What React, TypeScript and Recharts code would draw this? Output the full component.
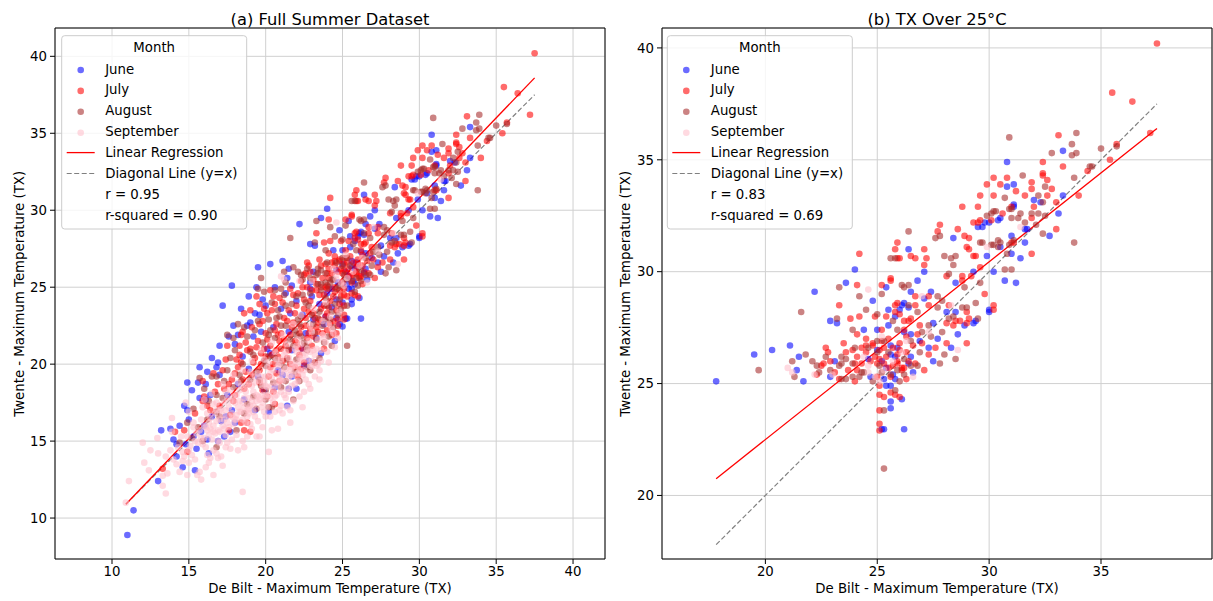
import React from 'react';
import { ScatterChart, Scatter, XAxis, YAxis, CartesianGrid, ReferenceLine } from 'recharts';

type P = [number, number];

// Days with TX over 25°C at either station: panel (b), and also part of panel (a)
const juneHot: P[] = [
  [17.8, 25.1], [19.5, 26.3], [20.3, 26.5], [21.1, 26.7], [21.5, 26.2], [21.7, 25.1], [21.4, 25.6], [22.2, 29.1],
  [22.9, 27.8], [23.2, 27.7], [23.6, 29.5], [24.0, 30.1], [24.8, 28.7], [25.4, 29.3], [26.2, 28.6], [25.5, 28.3],
  [26.0, 28.3], [24.4, 27.4], [25.0, 26.5], [25.6, 26.3], [25.8, 26.2], [23.1, 26.0], [22.9, 25.3], [24.7, 25.3],
  [25.4, 25.7], [25.7, 25.4], [25.8, 25.2], [26.4, 25.9], [25.4, 24.9], [25.6, 24.9], [26.1, 24.3], [25.6, 23.9],
  [25.6, 24.2], [25.2, 22.96], [25.3, 22.96], [26.2, 22.96],
  [30.8, 34.9], [31.1, 33.9], [30.8, 33.8], [31.1, 33.0], [30.4, 32.3], [29.8, 32.2], [29.5, 32.0], [26.4, 31.0],
  [28.4, 31.5], [29.9, 30.7], [31.0, 31.6], [31.0, 30.8], [30.7, 29.6], [31.2, 29.5], [30.2, 30.0], [29.3, 30.0],
  [28.5, 29.5], [30.0, 28.3], [27.1, 30.0], [26.5, 29.1], [26.8, 29.6], [27.1, 28.8], [27.4, 29.1], [28.5, 28.2],
  [26.1, 28.5], [26.4, 28.4], [28.9, 27.6], [29.3, 27.7],
  [33.3, 35.4], [33.3, 33.4], [33.1, 32.6], [32.3, 33.1], [32.0, 33.2], [31.1, 32.9], [30.5, 32.4], [30.0, 32.2],
  [29.7, 32.0], [31.6, 31.9], [31.7, 31.9], [32.7, 31.6], [31.6, 31.3], [31.4, 30.6], [30.5, 31.1],
  [30.0, 28.2], [29.4, 27.8], [28.6, 27.2], [27.5, 26.0], [27.3, 26.6], [26.5, 26.2], [25.5, 27.6], [25.0, 27.4],
  [25.8, 28.0], [26.5, 27.2], [26.2, 27.3], [25.6, 26.7], [28.3, 26.6], [27.7, 27.0], [27.5, 27.7], [28.1, 28.2],
  [25.2, 26.0], [25.9, 26.6], [26.6, 25.5], [25.3, 25.2], [26.9, 26.9], [24.6, 26.1],
];

const julyHot: P[] = [
  [22.7, 26.6], [24.1, 29.4], [24.2, 30.8], [23.3, 28.5], [23.8, 27.9], [24.2, 28.0], [24.9, 28.0], [25.2, 29.4],
  [25.6, 29.6], [26.0, 30.6], [25.8, 31.0], [25.9, 28.6], [25.8, 28.2], [22.6, 25.9], [23.5, 26.8], [23.6, 26.4],
  [24.1, 27.2], [24.5, 27.0], [24.5, 26.7], [24.8, 26.7], [25.1, 26.5], [25.3, 26.6], [25.2, 26.9], [25.5, 27.0],
  [26.0, 26.5], [26.3, 27.1], [26.2, 27.4], [26.4, 27.8], [24.1, 25.6], [24.3, 25.9], [24.1, 26.2], [23.7, 25.6],
  [23.3, 25.2], [22.9, 26.0], [22.5, 25.8], [22.8, 26.4], [25.1, 26.1], [25.5, 25.7], [25.9, 25.9], [26.1, 25.7],
  [25.1, 24.9], [26.0, 24.4], [25.3, 24.4], [25.1, 24.5], [25.1, 23.8], [25.1, 23.2], [25.1, 22.9], [25.6, 24.6],
  [25.8, 24.5],
  [30.2, 34.2], [29.9, 33.9], [29.6, 33.4], [31.0, 32.9], [30.6, 32.6], [30.1, 32.3], [29.6, 32.3], [29.3, 32.2],
  [28.8, 32.9], [28.6, 31.9], [27.8, 32.1], [27.7, 31.8], [25.9, 31.3], [25.9, 30.6], [26.5, 30.7], [26.7, 30.6],
  [27.1, 31.0], [27.2, 30.6], [27.1, 30.3], [28.9, 31.6], [29.0, 31.1], [29.3, 30.7], [29.6, 30.2], [29.2, 29.8],
  [28.8, 29.8], [28.8, 29.6], [29.8, 29.0], [30.2, 28.5], [28.1, 29.8], [25.6, 29.7], [26.7, 28.9], [27.3, 28.9],
  [29.0, 28.2], [25.8, 28.5], [26.7, 28.5], [27.3, 28.5], [28.5, 27.8], [28.4, 27.6],
  [37.5, 40.2], [35.5, 38.0], [36.4, 37.6], [37.2, 36.2], [35.7, 35.7], [35.4, 35.0], [33.1, 36.1], [32.4, 34.9],
  [33.3, 34.7], [34.4, 34.5], [32.4, 34.4], [32.4, 34.3], [32.6, 34.1], [32.8, 33.7], [32.6, 33.4], [33.0, 33.1],
  [34.0, 33.4], [32.0, 32.9], [31.9, 34.0], [31.9, 33.7], [31.2, 33.6], [31.6, 33.4], [30.8, 34.2], [30.5, 33.9],
  [30.2, 33.4], [29.5, 32.9], [29.5, 32.2], [31.9, 32.4], [33.0, 31.9], [31.0, 31.3], [31.1, 31.3], [31.9, 30.8],
  [29.4, 30.7], [29.1, 31.0], [29.1, 31.5],
  [30.2, 28.3], [29.1, 27.9], [29.0, 27.7], [29.0, 26.8], [28.7, 27.8], [28.1, 27.7], [28.1, 26.8], [27.1, 25.6],
  [27.3, 26.3], [27.0, 26.8], [26.3, 26.4], [26.2, 25.7], [26.3, 25.2], [25.7, 25.8], [25.4, 26.2], [25.0, 25.9],
  [24.0, 25.1], [24.0, 25.9], [24.5, 26.4], [24.7, 26.0], [24.8, 26.8], [26.0, 28.1], [26.2, 27.8], [26.5, 27.9],
  [26.8, 27.2], [26.0, 26.8], [25.9, 26.0], [26.1, 25.6], [28.2, 28.5],
  [25.3, 25.9], [25.6, 25.3], [25.9, 26.3], [26.4, 26.0], [25.2, 27.4], [25.7, 26.6], [26.7, 25.9], [24.9, 26.2],
  [24.3, 26.6], [25.4, 28.0], [26.9, 27.6], [27.6, 26.6], [23.9, 26.5], [23.1, 25.5], [22.3, 25.4], [25.0, 25.3],
  [26.6, 26.7],
];

const augustHot: P[] = [
  [19.7, 25.6], [21.8, 26.3], [21.6, 28.2], [21.2, 26.0], [21.3, 25.3], [22.7, 26.2], [22.1, 26.0], [22.3, 25.8],
  [22.4, 25.5], [23.2, 27.9], [23.3, 29.3], [24.2, 28.9], [24.5, 28.3], [25.2, 29.0], [25.8, 30.6], [26.2, 29.3],
  [23.3, 25.8], [23.4, 26.2], [23.9, 27.4], [25.0, 26.9], [25.9, 27.4], [26.5, 26.9], [23.6, 25.2], [23.9, 25.3],
  [24.2, 25.3], [24.4, 25.5], [23.9, 25.9], [23.4, 25.9], [23.4, 25.2], [25.2, 25.5], [26.2, 25.4], [25.8, 24.7],
  [25.3, 23.8], [25.3, 21.2],
  [30.9, 36.0], [30.7, 33.3], [30.9, 32.8], [30.2, 32.7], [29.9, 32.5], [27.8, 31.6], [27.6, 31.5], [26.4, 31.8],
  [25.6, 30.6], [28.0, 30.7], [28.3, 30.6], [28.5, 30.7], [28.4, 30.3], [29.6, 31.3], [30.2, 31.2], [30.4, 31.1],
  [30.4, 31.4], [30.9, 31.2], [31.1, 31.4], [30.7, 30.1], [31.0, 30.1], [28.9, 29.3], [29.6, 29.5], [28.2, 29.9],
  [26.1, 29.4], [26.4, 29.4], [27.7, 28.9], [27.9, 28.7], [28.8, 28.4], [29.4, 28.6], [27.7, 28.4], [28.2, 27.9],
  [35.7, 35.6], [35.0, 35.5], [33.9, 36.2], [33.7, 35.7], [33.9, 35.3], [33.7, 35.2], [32.8, 35.3], [34.5, 34.7],
  [34.6, 34.7], [33.8, 34.2], [32.5, 33.8], [32.2, 33.4], [32.4, 33.1], [31.5, 34.3], [31.0, 32.8], [30.3, 32.7],
  [30.1, 32.6], [31.4, 32.6], [31.0, 32.4], [31.3, 32.4], [31.9, 32.6], [32.1, 32.1], [32.2, 32.6], [32.5, 32.5],
  [32.4, 31.7], [33.8, 31.3], [31.6, 32.2], [30.5, 31.3], [30.1, 31.2], [29.7, 31.3], [30.8, 30.8],
  [29.5, 27.9], [29.0, 28.4], [28.5, 26.1], [27.9, 27.3], [26.8, 25.8], [26.5, 25.8], [25.9, 25.6], [26.0, 25.1],
  [25.6, 25.4], [24.8, 25.1], [24.3, 25.5], [25.0, 26.4], [25.0, 28.1], [25.3, 26.9], [25.7, 27.8], [26.8, 28.2],
  [27.0, 27.3], [27.8, 25.9], [28.0, 26.3], [27.4, 27.1], [28.4, 28.0],
  [25.5, 26.4], [26.2, 26.1], [25.1, 25.8], [24.6, 26.6], [26.9, 26.4], [27.3, 27.6], [24.0, 26.6], [22.9, 25.6],
  [23.6, 26.1], [26.4, 28.5],
];

const septemberHot: P[] = [
  [21.0, 25.7], [22.2, 25.4], [24.6, 29.2], [24.6, 25.8], [24.9, 25.3], [29.9, 31.1], [28.3, 28.5], [31.4, 32.0],
  [28.6, 26.5], [26.6, 25.3], [25.3, 25.6], [25.1, 25.1], [24.6, 25.5], [25.2, 27.1], [26.1, 26.4], [21.2, 25.5],
  [23.0, 25.4], [27.0, 28.9], [25.7, 26.0], [26.3, 26.9], [24.4, 26.2], [27.3, 27.3],
];

// Remaining (cooler) summer days: panel (a) only
const juneCool: P[] = [
  [11.0, 8.9], [11.4, 10.5], [13.0, 12.4], [13.2, 15.7], [13.8, 15.8], [14.0, 15.1], [14.4, 16.0], [14.2, 14.0],
  [14.6, 13.3], [15.4, 13.1], [14.7, 17.3], [14.9, 17.0], [15.2, 18.3], [14.9, 18.8], [15.0, 16.4], [16.5, 20.4],
  [15.7, 19.8], [16.1, 18.7], [15.7, 17.8], [16.1, 17.7], [16.8, 19.8], [17.6, 21.8], [18.0, 21.3], [16.9, 15.0],
  [17.3, 15.3], [17.4, 16.6], [17.2, 23.8], [19.8, 24.2], [19.3, 23.3], [19.6, 23.2], [18.8, 22.5], [19.0, 22.7],
  [16.9, 20.1], [25.0, 22.45], [24.6, 23.0], [18.5, 20.5], [19.2, 21.8], [20.1, 21.0], [20.5, 22.4], [21.0, 23.6],
  [21.5, 22.1], [22.0, 24.1], [22.4, 23.2], [23.0, 24.4], [23.5, 23.9], [24.0, 24.6], [24.3, 23.7], [20.8, 19.6],
  [19.5, 19.2], [18.2, 18.7], [17.5, 18.0], [16.5, 16.6], [16.0, 16.0], [17.8, 17.0], [21.7, 20.9], [22.6, 22.0],
  [23.8, 22.6], [20.3, 20.7], [18.9, 19.7], [21.3, 24.6], [22.9, 24.9], [24.6, 24.2], [23.3, 21.7], [17.0, 19.3],
  [19.9, 18.3], [15.8, 15.6], [14.8, 14.8], [15.5, 14.5], [16.3, 14.2], [17.7, 15.6], [21.4, 17.3], [21.5, 18.4],
  [22.0, 18.4], [22.5, 19.9], [21.7, 19.2], [23.6, 20.7], [24.5, 21.5], [18.0, 16.2],
  [17.0, 21.2], [17.9, 22.5], [18.4, 23.6], [18.9, 24.4], [19.4, 25.0], [20.6, 25.0], [16.2, 19.5], [15.6, 18.8],
  [16.4, 18.0], [18.6, 17.7], [19.3, 17.0], [20.2, 16.9], [20.6, 18.5], [21.1, 19.3], [22.8, 20.2], [23.1, 22.9],
  [24.3, 24.9], [23.9, 23.1], [20.0, 23.8], [21.6, 23.3], [18.2, 21.9], [19.7, 22.1], [17.1, 16.3], [16.2, 15.1],
  [15.3, 15.3], [14.2, 14.8], [22.4, 21.0], [24.8, 22.6], [25.0, 24.0],
];

const julyCool: P[] = [
  [13.3, 13.2], [14.9, 14.3], [14.1, 15.6], [16.6, 19.4], [17.5, 21.2], [18.4, 21.9], [17.7, 16.7], [17.6, 15.7],
  [18.6, 15.7], [18.4, 16.2], [20.5, 18.2], [19.8, 18.3], [18.3, 21.2], [18.5, 22.1], [19.6, 22.6], [19.9, 23.6],
  [20.6, 23.9], [24.7, 22.5], [18.1, 20.3], [20.1, 17.9], [20.6, 17.4], [18.8, 16.2], [19.0, 15.6], [22.1, 19.2],
  [22.3, 19.7], [23.2, 20.1], [15.9, 17.6], [16.0, 17.9], [15.9, 18.9],
  [19.0, 21.0], [19.5, 21.5], [20.0, 22.0], [20.3, 21.2], [20.7, 22.6], [21.0, 22.0], [21.2, 23.0], [21.5, 23.5],
  [21.8, 22.7], [22.0, 23.8], [22.3, 22.4], [22.5, 24.2], [22.8, 23.4], [23.0, 24.8], [23.2, 23.0], [23.5, 24.5],
  [23.8, 23.8], [24.0, 24.9], [24.2, 24.1], [24.5, 24.7], [24.8, 23.9], [20.0, 20.5], [20.5, 20.0], [21.0, 21.0],
  [21.4, 20.4], [21.9, 21.5], [22.4, 21.0], [22.9, 22.3], [23.4, 22.1], [23.9, 23.1], [24.4, 22.8], [19.2, 20.1],
  [18.7, 19.5], [18.2, 19.8], [17.8, 19.0], [17.3, 18.4], [18.0, 18.0], [18.9, 18.7], [19.6, 19.6], [20.2, 19.2],
  [20.9, 18.9], [21.6, 20.0], [22.2, 20.6], [23.0, 21.2], [23.7, 22.0], [24.3, 21.9], [17.0, 17.3], [16.7, 18.2],
  [16.4, 17.0], [19.4, 24.4], [20.3, 24.8], [20.9, 24.3], [21.6, 24.9], [18.6, 23.3], [20.1, 23.3], [22.7, 25.0],
  [24.9, 24.4], [23.6, 25.0], [19.7, 20.7], [21.2, 21.6], [22.6, 23.0],
  [18.3, 20.6], [18.7, 21.4], [19.1, 22.4], [19.4, 21.1], [19.8, 22.8], [20.1, 21.6], [20.4, 23.5], [20.6, 22.2],
  [20.9, 21.5], [21.1, 24.0], [21.4, 22.8], [21.6, 21.9], [21.9, 23.3], [22.1, 24.6], [22.2, 22.0], [22.5, 23.6],
  [22.7, 21.7], [22.9, 24.1], [23.1, 23.3], [23.3, 24.8], [23.4, 22.7], [23.6, 23.6], [23.8, 24.5], [24.0, 23.3],
  [24.2, 22.6], [24.4, 24.4], [24.6, 23.5], [24.8, 24.8], [19.3, 20.4], [19.9, 21.0], [20.4, 20.6], [20.8, 21.9],
  [21.3, 21.2], [21.7, 22.4], [22.0, 21.4], [22.6, 22.5], [23.1, 21.8], [23.5, 22.9], [24.1, 23.7], [24.7, 22.9],
  [18.6, 18.4], [19.1, 19.3], [19.6, 18.8], [20.3, 19.8], [20.8, 20.5], [21.5, 20.9], [22.1, 21.1], [22.8, 22.0],
  [23.3, 22.4], [24.0, 22.2], [17.6, 18.7], [18.0, 19.4], [18.4, 20.1], [17.2, 19.6], [16.9, 18.7], [17.4, 20.3],
  [18.8, 20.9], [19.6, 23.9], [20.5, 24.4], [21.8, 24.5], [22.4, 25.0], [19.0, 23.5], [20.7, 20.9], [23.9, 25.0],
  [24.5, 25.0], [21.1, 20.2], [22.5, 20.1], [19.7, 20.0], [18.5, 19.0], [17.9, 17.6], [20.7, 19.4], [21.9, 19.8],
  [23.8, 21.0], [24.6, 22.0], [16.2, 17.3], [15.4, 16.8], [14.7, 15.7],
];

const augustCool: P[] = [
  [15.7, 19.1], [16.5, 19.2], [16.8, 14.6], [20.0, 17.7], [20.4, 17.2], [18.1, 15.7], [21.8, 17.7], [22.2, 18.9],
  [22.9, 19.6], [23.2, 20.1], [16.8, 19.2], [19.4, 17.1], [20.2, 17.2],
  [18.5, 20.0], [19.0, 20.8], [19.3, 22.2], [19.8, 21.4], [20.2, 22.9], [20.6, 21.7], [20.9, 23.1], [21.3, 22.5],
  [21.7, 23.9], [22.1, 22.9], [22.4, 24.5], [22.8, 23.8], [23.1, 22.6], [23.5, 23.4], [23.9, 24.3], [24.3, 23.4],
  [24.6, 24.9], [24.9, 23.6], [19.4, 19.5], [20.0, 19.9], [20.6, 20.4], [21.2, 19.8], [21.8, 21.2], [22.3, 21.8],
  [22.7, 20.9], [23.3, 21.6], [23.8, 21.4], [24.4, 22.4], [17.5, 19.6], [17.9, 18.5], [18.4, 18.9], [17.2, 17.8],
  [16.8, 16.9], [16.2, 16.4], [18.8, 17.4], [19.7, 18.6], [20.5, 18.8], [21.3, 18.9], [22.0, 20.3], [15.6, 15.9],
  [15.2, 15.2], [14.4, 14.9], [17.9, 21.7], [18.6, 22.4], [19.9, 24.7], [21.0, 24.9], [22.6, 24.0], [24.1, 25.0],
  [20.3, 22.2], [21.6, 21.6],
  [18.0, 20.9], [18.8, 21.8], [19.2, 20.6], [19.5, 22.8], [19.9, 20.2], [20.2, 21.9], [20.4, 24.0], [20.8, 23.5],
  [21.0, 22.5], [21.3, 23.8], [21.5, 21.0], [21.9, 22.2], [22.0, 24.4], [22.3, 23.1], [22.5, 21.4], [22.9, 24.6],
  [23.0, 23.2], [23.2, 22.0], [23.6, 24.8], [23.7, 22.5], [24.0, 23.8], [24.2, 22.9], [24.5, 23.9], [24.8, 24.2],
  [18.3, 19.3], [19.0, 19.0], [19.6, 19.0], [20.2, 20.5], [20.9, 20.1], [21.4, 20.3], [22.0, 21.9], [22.6, 21.2],
  [23.4, 23.0], [24.1, 21.8], [17.3, 18.9], [17.7, 20.4], [16.8, 18.0], [16.3, 17.6], [17.0, 16.6], [18.6, 16.8],
  [19.2, 17.9], [20.0, 18.3], [21.0, 18.5], [21.9, 19.5], [22.7, 19.8], [23.5, 20.4], [24.3, 21.2], [19.5, 24.9],
  [20.6, 24.8], [18.2, 22.6], [17.5, 21.9], [16.0, 18.4], [15.3, 17.1], [14.9, 16.2], [15.9, 15.0], [20.7, 23.0],
  [22.2, 22.6], [23.9, 22.9], [24.7, 23.2], [21.2, 24.5],
];

const septemberCool: P[] = [
  [15.5, 15.5], [15.8, 16.4], [16.0, 15.2], [16.2, 16.8], [16.4, 15.8], [16.6, 17.4], [16.8, 16.3], [17.0, 15.6],
  [17.1, 17.1], [17.3, 16.4], [17.5, 17.8], [17.6, 15.9], [17.8, 16.8], [18.0, 17.5], [18.1, 15.4], [18.3, 18.3],
  [18.4, 16.9], [18.6, 17.8], [18.7, 16.2], [18.9, 18.9], [19.0, 17.3], [19.2, 18.2], [19.3, 16.6], [19.5, 19.4],
  [19.6, 17.7], [19.8, 18.6], [19.9, 16.9], [20.1, 19.8], [20.2, 18.0], [20.4, 19.1], [20.5, 17.5], [20.7, 20.3],
  [20.8, 18.6], [21.0, 19.5], [21.2, 18.0], [21.3, 20.8], [21.5, 19.1], [21.7, 20.1], [21.9, 18.7], [22.0, 21.2],
  [22.2, 19.6], [22.4, 20.6], [22.6, 19.0], [22.8, 21.5], [23.0, 20.2], [23.3, 21.0], [23.5, 19.6], [23.7, 21.9],
  [24.0, 20.8], [24.3, 22.3], [16.1, 14.6], [16.9, 15.0], [17.7, 14.5], [18.5, 15.0], [19.1, 15.8], [19.8, 15.9],
  [20.3, 16.6], [21.1, 16.8], [21.8, 17.6], [22.5, 18.2], [14.6, 14.3], [14.9, 15.3], [15.2, 14.1], [15.3, 16.2],
  [15.9, 17.2], [16.5, 18.1], [17.2, 18.7], [17.9, 19.3], [18.5, 19.6], [19.1, 20.2], [19.7, 20.9], [20.4, 21.4],
  [21.1, 21.9], [21.8, 22.6], [22.3, 23.2], [23.1, 23.6], [23.9, 24.0], [17.4, 17.0], [18.2, 17.2], [19.4, 18.0],
  [20.0, 18.6], [20.9, 19.1], [21.6, 19.6], [22.1, 20.0], [22.9, 20.8], [23.6, 20.9], [18.8, 16.6], [19.7, 17.2],
  [20.6, 17.9], [21.4, 18.4], [16.3, 16.2], [17.0, 16.4], [17.9, 16.1], [18.9, 17.8], [20.0, 19.2], [21.0, 20.3],
  [22.0, 20.8], [23.0, 22.1], [24.2, 23.1], [24.8, 23.4], [24.5, 21.1], [23.0, 19.85], [23.3, 19.9], [21.0, 17.3],
  [21.4, 17.2], [19.4, 15.3], [18.8, 15.3], [17.5, 14.9], [17.4, 14.6], [16.2, 14.1], [16.4, 13.9], [16.8, 14.2],
  [16.3, 13.6], [16.6, 14.4], [16.9, 13.9], [17.1, 14.0], [15.9, 14.8], [15.0, 13.6], [15.7, 13.0], [15.55, 12.8],
  [14.9, 12.8], [14.4, 13.0], [13.6, 12.9], [13.5, 11.6], [13.3, 12.1], [13.3, 12.75], [13.0, 14.2], [12.95, 15.2],
  [12.5, 14.4], [12.0, 14.9], [11.1, 12.4], [10.9, 11.0], [18.5, 11.7], [20.2, 14.3], [14.8, 17.5], [13.9, 16.5],
  [13.9, 15.6], [18.1, 16.4],
  [15.6, 14.9], [16.0, 16.0], [16.3, 15.4], [16.7, 16.8], [16.9, 15.7], [17.2, 16.0], [17.3, 17.5], [17.6, 16.6],
  [17.9, 17.9], [18.1, 16.7], [18.3, 17.6], [18.5, 16.4], [18.7, 18.2], [18.9, 17.1], [19.1, 18.6], [19.2, 16.9],
  [19.4, 17.6], [19.6, 18.9], [19.8, 17.5], [20.0, 18.0], [20.1, 17.2], [20.3, 19.4], [20.5, 18.3], [20.6, 16.9],
  [20.8, 19.9], [21.0, 18.2], [21.2, 19.4], [21.3, 17.8], [21.5, 20.4], [21.7, 18.6], [21.9, 19.9], [22.1, 18.9],
  [22.3, 21.3], [22.4, 19.3], [22.7, 20.3], [22.8, 18.7], [23.1, 20.9], [23.2, 19.2], [23.4, 21.6], [23.6, 20.2],
  [23.9, 21.4], [24.1, 20.1], [24.4, 22.0], [24.7, 21.7], [15.1, 14.7], [15.4, 13.8], [15.7, 15.7], [16.1, 13.3],
  [16.5, 15.1], [17.0, 14.9], [17.4, 15.4], [17.8, 15.1], [18.2, 14.4], [18.6, 14.6], [19.0, 16.1], [19.5, 16.3],
  [20.0, 16.6], [20.4, 15.7], [20.9, 17.0], [21.6, 17.0], [22.2, 17.9], [22.9, 18.4], [16.8, 17.5], [17.7, 18.3],
  [18.4, 18.6], [19.3, 19.2], [20.2, 20.1], [21.2, 20.6], [22.1, 21.6], [22.9, 22.5], [23.7, 22.8], [15.3, 15.9],
  [16.0, 17.7], [16.6, 16.0], [17.6, 17.2], [18.8, 17.0], [19.9, 18.9], [20.7, 18.0], [21.8, 19.3], [22.6, 20.7],
  [14.3, 14.6], [14.0, 13.8], [14.7, 14.0], [13.8, 14.4], [15.8, 12.5], [16.6, 12.8], [17.2, 13.4], [19.6, 15.3],
  [20.8, 15.8], [21.6, 16.2], [22.4, 17.2], [23.5, 19.0], [12.4, 13.1], [12.1, 13.6], [14.5, 15.3], [15.0, 16.9],
  [13.5, 14.0],
  [16.1, 15.9], [16.4, 16.5], [16.7, 15.5], [17.0, 17.0], [17.2, 16.7], [17.5, 16.2], [17.7, 17.6], [17.9, 16.5],
  [18.1, 18.0], [18.3, 16.9], [18.5, 17.5], [18.7, 18.6], [18.9, 16.8], [19.1, 17.6], [19.3, 18.8], [19.5, 17.9],
  [19.7, 19.2], [19.9, 17.8], [20.1, 18.5], [20.3, 17.8], [20.5, 19.6], [20.7, 18.8], [20.9, 20.0], [21.1, 18.9],
  [21.3, 19.7], [21.5, 18.2], [21.7, 19.8], [21.9, 21.0], [22.1, 19.4], [22.3, 20.3], [22.5, 19.6], [22.7, 21.0],
  [22.9, 19.9], [23.2, 20.6], [23.4, 20.0], [15.8, 15.2], [15.4, 15.0], [15.0, 14.4], [14.6, 13.7], [14.2, 13.5],
  [16.6, 15.6], [17.3, 15.8], [18.0, 16.4], [18.6, 17.2], [19.2, 17.3], [19.8, 18.0], [20.4, 18.6], [21.0, 19.0],
  [21.6, 19.3], [22.2, 20.4], [18.2, 18.8], [19.0, 19.5], [19.9, 20.3], [20.6, 20.8], [21.4, 21.3], [17.4, 18.2],
  [16.8, 17.0], [16.2, 15.7], [23.8, 21.7], [24.1, 22.6],
];

const months = ['June', 'July', 'August', 'September'];
const monthColors = ['#0000ff', '#ff0000', '#a52a2a', '#ffc0cb'];

// fitted lines and y = x, as end points
const fullFit: P[] = [[10.9, 10.9], [37.5, 38.6]];
const fullDiagonal: P[] = [[10.9, 10.9], [37.5, 37.5]];
const hotFit: P[] = [[17.8, 20.75], [37.5, 36.4]];
const hotDiagonal: P[] = [[17.8, 17.8], [37.5, 37.5]];

const fullTicks = [10, 15, 20, 25, 30, 35, 40];
const hotXTicks = [20, 25, 30, 35];
const hotYTicks = [20, 25, 30, 35, 40];

const FONT = '"DejaVu Sans", sans-serif';
const ALPHA = 0.58;

const toXY = (pts: P[]) => pts.map(([x, y]) => ({ x, y }));

function dot(color: string) {
  return (props: any) => (
    <circle cx={props.cx} cy={props.cy} r={3.3} fill={color} fillOpacity={ALPHA} />
  );
}

interface PanelProps {
  series: P[][];
  xDomain: [number, number];
  yDomain: [number, number];
  xTicks: number[];
  yTicks: number[];
  fit: P[];
  diagonal: P[];
  width: number;
  yAxisWidth: number;
  rightMargin: number;
}

function Panel({ series, xDomain, yDomain, xTicks, yTicks, fit, diagonal, width, yAxisWidth, rightMargin }: PanelProps) {
  const tick = { fontSize: 13.3, fill: '#000', fontFamily: FONT };
  return (
    <ScatterChart width={width} height={601} margin={{ top: 28, right: rightMargin, bottom: 0, left: 0 }}>
      <CartesianGrid stroke="#d0d0d0" />
      <XAxis
        type="number"
        dataKey="x"
        domain={xDomain}
        ticks={xTicks}
        allowDataOverflow
        interval={0}
        height={42}
        tick={tick}
        tickSize={5}
        tickMargin={3}
        tickLine={{ stroke: '#000' }}
        axisLine={{ stroke: '#000' }}
      />
      <YAxis
        type="number"
        dataKey="y"
        domain={yDomain}
        ticks={yTicks}
        allowDataOverflow
        interval={0}
        width={yAxisWidth}
        tick={tick}
        tickSize={5}
        tickMargin={3}
        tickLine={{ stroke: '#000' }}
        axisLine={{ stroke: '#000' }}
      />
      {series.map((pts, i) => (
        <Scatter
          key={months[i]}
          name={months[i]}
          data={toXY(pts)}
          fill={monthColors[i]}
          shape={dot(monthColors[i])}
          isAnimationActive={false}
        />
      ))}
      <ReferenceLine segment={toXY(diagonal)} stroke="#808080" strokeWidth={1.2} strokeDasharray="5 2.5" />
      <ReferenceLine segment={toXY(fit)} stroke="#ff0000" strokeWidth={1.3} />
      <ReferenceLine x={xDomain[1]} stroke="#000" />
      <ReferenceLine y={yDomain[1]} stroke="#000" />
    </ScatterChart>
  );
}

function LegendBox({ left, r, r2 }: { left: number; r: string; r2: string }) {
  const top = 35.7;
  const rows = [...months, 'Linear Regression', 'Diagonal Line (y=x)', `r = ${r}`, `r-squared = ${r2}`];
  return (
    <g fontFamily={FONT} fontSize={13.3} fill="#000">
      <rect x={left} y={top} width={185} height={193.3} rx={3} fill="#fff" fillOpacity={0.8} stroke="#cccccc" />
      <text x={left + 92.5} y={52} textAnchor="middle">Month</text>
      {rows.map((label, i) => {
        const base = 73.5 + i * 20.9;
        const mid = base - 4.5;
        let marker = null;
        if (i < 4) {
          marker = <circle cx={left + 19} cy={mid + 1} r={3.3} fill={monthColors[i]} fillOpacity={ALPHA} />;
        } else if (i === 4) {
          marker = <line x1={left + 5} x2={left + 33} y1={mid} y2={mid} stroke="#ff0000" strokeWidth={1.3} />;
        } else if (i === 5) {
          marker = (
            <line x1={left + 5} x2={left + 33} y1={mid} y2={mid} stroke="#808080" strokeWidth={1.2} strokeDasharray="5 2.5" />
          );
        }
        return (
          <g key={label}>
            {marker}
            <text x={left + 43.5} y={base}>{label}</text>
          </g>
        );
      })}
    </g>
  );
}

export default function App() {
  const labelStyle = { fontFamily: FONT, fontSize: 13.3, fill: '#000' };
  return (
    <div style={{ position: 'absolute', left: 0, top: 0, width: 1213, height: 601, background: '#fff', overflow: 'hidden' }}>
      <div style={{ position: 'absolute', left: 0, top: 0 }}>
        <Panel
          series={[
            [...juneHot, ...juneCool],
            [...julyHot, ...julyCool],
            [...augustHot, ...augustCool],
            [...septemberHot, ...septemberCool],
          ]}
          xDomain={[6.29, 42.08]}
          yDomain={[7.34, 41.84]}
          xTicks={fullTicks}
          yTicks={fullTicks}
          fit={fullFit}
          diagonal={fullDiagonal}
          width={610}
          yAxisWidth={55}
          rightMargin={5}
        />
      </div>
      <div style={{ position: 'absolute', left: 605, top: 0 }}>
        <Panel
          series={[juneHot, julyHot, augustHot, septemberHot]}
          xDomain={[15.38, 39.96]}
          yDomain={[17.16, 40.89]}
          xTicks={hotXTicks}
          yTicks={hotYTicks}
          fit={hotFit}
          diagonal={hotDiagonal}
          width={608}
          yAxisWidth={57}
          rightMargin={1}
        />
      </div>
      <svg width={1213} height={601} style={{ position: 'absolute', left: 0, top: 0, pointerEvents: 'none' }}>
        <text x={330} y={24.5} textAnchor="middle" fontFamily={FONT} fontSize={16.3} fill="#000">
          (a) Full Summer Dataset
        </text>
        <text x={937} y={24.5} textAnchor="middle" fontFamily={FONT} fontSize={16.3} fill="#000">
          (b) TX Over 25°C
        </text>
        <text x={330} y={593} textAnchor="middle" style={labelStyle}>
          De Bilt - Maximum Temperature (TX)
        </text>
        <text x={937} y={593} textAnchor="middle" style={labelStyle}>
          De Bilt - Maximum Temperature (TX)
        </text>
        <text transform="translate(24,293.8) rotate(-90)" textAnchor="middle" style={labelStyle}>
          Twente - Maximum Temperature (TX)
        </text>
        <text transform="translate(630,293.8) rotate(-90)" textAnchor="middle" style={labelStyle}>
          Twente - Maximum Temperature (TX)
        </text>
        <LegendBox left={61.7} r="0.95" r2="0.90" />
        <LegendBox left={667.3} r="0.83" r2="0.69" />
      </svg>
    </div>
  );
}
